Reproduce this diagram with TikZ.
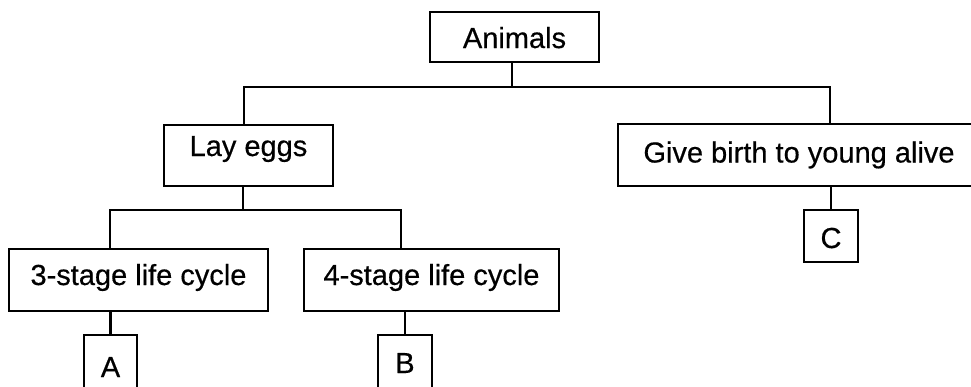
\documentclass[tikz,border=0pt]{standalone}
\usepackage{fontspec}
\setmainfont{Liberation Sans}[FakeBold=0.5]
\newcommand{\lift}[2]{\raisebox{#1pt}{#2}}
\begin{document}
\begin{tikzpicture}[x=1pt,y=-1pt,
  box/.style={draw,line width=2.2pt,inner sep=0pt,font=\fontsize{29}{34}\selectfont,
    text height=21pt,text depth=6pt},
  conn/.style={line width=2.2pt}]
\clip (0,0) rectangle (971,386);
\node[box,minimum width=169pt,minimum height=50pt] (animals) at (514.5,37) {\lift{-3.5}{Animals}};
\node[box,minimum width=169pt,minimum height=61pt] (lay) at (248.5,155.5) {\lift{7}{Lay eggs}};
\node[box,minimum width=362pt,minimum height=62pt] (give) at (799,155) {\lift{0}{Give birth to young alive}};
\node[box,minimum width=259pt,minimum height=62pt] (three) at (138.5,280) {\lift{2.5}{3-stage life cycle}};
\node[box,minimum width=255pt,minimum height=62pt] (four) at (431.5,280) {\lift{2.5}{4-stage life cycle}};
\node[box,minimum width=53pt,minimum height=60pt] (A) at (110.5,365) {\lift{-4.5}{A}};
\node[box,minimum width=54pt,minimum height=60pt] (B) at (405,365) {\lift{-0.5}{B}};
\node[box,minimum width=54pt,minimum height=52pt] (C) at (831,236) {\lift{-4.5}{C}};
\coordinate (bus1) at (512,87);
\coordinate (bus2) at (243,210);
\draw[conn] (animals.south -| bus1) -- (bus1);
\draw[conn] ([xshift=-4.5pt]lay.north) |- (bus1) -| ([xshift=31pt]give.north);
\draw[conn] (lay.south -| bus2) -- (bus2);
\draw[conn] ([xshift=-28.5pt]three.north) |- (bus2) -| ([xshift=-30.5pt]four.north);
\draw[conn] (three.south -| A.north) -- (A.north);
\draw[conn] (four.south -| B.north) -- (B.north);
\draw[conn] (give.south -| C.north) -- (C.north);
\end{tikzpicture}
\end{document}
